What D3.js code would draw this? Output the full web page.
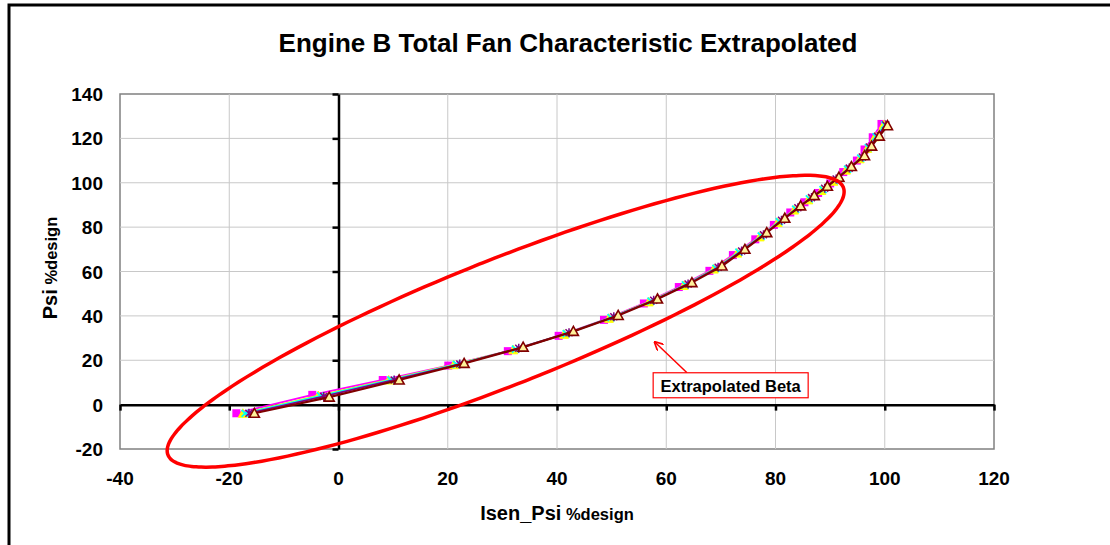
<!DOCTYPE html>
<html><head><meta charset="utf-8">
<script src="https://cdn.jsdelivr.net/npm/d3@7"></script>
<style>
body{margin:0;background:#fff}
svg{display:block}
text{font-family:"Liberation Sans",Arial,Helvetica,sans-serif;font-weight:bold;fill:#000}
</style>
</head><body>
<svg id="c" width="1110" height="545"></svg>
<script>
const chartTitle = "Engine B Total Fan Characteristic Extrapolated";
const xTitleMain = "Isen_Psi", xTitleUnit = " %design";
const yTitleMain = "Psi", yTitleUnit = " %design";
const xTicks = [-40, -20, 0, 20, 40, 60, 80, 100, 120];
const yTicks = [-20, 0, 20, 40, 60, 80, 100, 120, 140];

// Isen_Psi %design and Psi %design, one pair of arrays per series
const isen1 = [-18.7, -4.8, 8.1, 20.1, 31.0, 40.3, 48.6, 55.9, 62.3, 67.9, 72.2, 76.3, 79.7, 82.7, 85.3, 87.8, 90.0, 92.4, 94.9, 96.3, 97.8, 99.4];
const psi1  = [-3.9, 4.4, 11.1, 17.6, 24.1, 31.0, 38.2, 45.6, 53.0, 60.3, 67.4, 74.5, 81.0, 86.6, 91.2, 95.4, 99.7, 104.8, 110.0, 115.0, 120.5, 126.5];
const isen2 = [-17.5, -3.7, 9.2, 21.1, 32.0, 41.3, 49.5, 56.8, 63.2, 68.7, 73.0, 77.1, 80.4, 83.4, 86.0, 88.4, 90.6, 92.9, 95.4, 96.8, 98.2, 99.8];
const psi2  = [-3.9, 4.1, 11.1, 18.0, 24.7, 31.7, 38.9, 46.3, 53.7, 61.1, 68.3, 75.6, 82.1, 87.7, 92.3, 96.5, 100.7, 105.7, 110.8, 115.5, 120.7, 126.2];
const isen3 = [-17.1, -3.3, 9.6, 21.6, 32.4, 41.7, 49.9, 57.2, 63.5, 69.1, 73.3, 77.4, 80.7, 83.7, 86.2, 88.7, 90.8, 93.2, 95.6, 97.0, 98.4, 100.0];
const psi3  = [-3.9, 3.9, 11.1, 18.1, 25.0, 32.0, 39.2, 46.6, 54.0, 61.4, 68.7, 76.0, 82.5, 88.1, 92.7, 96.9, 101.1, 106.1, 111.1, 115.8, 120.8, 126.1];
const isen4 = [-16.4, -2.7, 10.2, 22.2, 33.0, 42.2, 50.4, 57.7, 64.0, 69.5, 73.8, 77.8, 81.1, 84.1, 86.6, 89.0, 91.1, 93.5, 95.9, 97.2, 98.7, 100.2];
const psi4  = [-3.9, 3.7, 11.1, 18.3, 25.4, 32.4, 39.6, 47.0, 54.4, 61.9, 69.2, 76.6, 83.1, 88.7, 93.3, 97.5, 101.7, 106.6, 111.6, 116.1, 120.9, 126.0];
const isen5 = [-15.4, -1.7, 11.1, 23.0, 33.8, 43.0, 51.2, 58.4, 64.7, 70.2, 74.4, 78.4, 81.7, 84.6, 87.1, 89.5, 91.6, 93.9, 96.3, 97.6, 99.0, 100.5];
const psi5  = [-3.9, 3.4, 11.1, 18.6, 25.9, 33.0, 40.2, 47.6, 55.0, 62.5, 70.0, 77.5, 84.0, 89.6, 94.2, 98.4, 102.5, 107.3, 112.2, 116.5, 121.0, 125.7];

// Annotation (data units)
const ellipseCenter = [30.6, 37.6];
const ellipseAxisU = [61.82, 60.29];
const ellipseAxisV = [4.205, -26.30];
const noteText = "Extrapolated Beta";
const notePos = [71.7, 8.5];
const arrowFrom = [63.8, 14.4];
const arrowTo = [57.9, 28.2];

const series = [
  {xs: isen1, ys: psi1, color: "#FF00FF", marker: "square"},
  {xs: isen2, ys: psi2, color: "#FFFF00", marker: "tri"},
  {xs: isen3, ys: psi3, color: "#00FFFF", marker: "x"},
  {xs: isen4, ys: psi4, color: "#800080", marker: "star"},
  {xs: isen5, ys: psi5, color: "#800000", marker: "tri2"}
];

const svg = d3.select("#c");
const L = 120, R = 994, T = 94, B = 449;
const x = d3.scaleLinear().domain([-40, 120]).range([L, R]);
const y = d3.scaleLinear().domain([-20, 140]).range([B, T]);

// chart area border
svg.append("rect").attr("x", 9).attr("y", 5).attr("width", 1120).attr("height", 560)
  .attr("fill", "#fff").attr("stroke", "#000").attr("stroke-width", 3);

// plot area
svg.append("rect").attr("x", L).attr("y", T).attr("width", R - L).attr("height", B - T)
  .attr("fill", "#fff").attr("stroke", "#808080").attr("stroke-width", 1.5);

// gridlines
svg.append("g").selectAll("line").data(xTicks.slice(1, -1)).join("line")
  .attr("x1", d => x(d)).attr("x2", d => x(d)).attr("y1", T).attr("y2", B)
  .attr("stroke", "#c8c8c8").attr("stroke-width", 1);
svg.append("g").selectAll("line").data(yTicks.slice(1, -1)).join("line")
  .attr("y1", d => y(d)).attr("y2", d => y(d)).attr("x1", L).attr("x2", R)
  .attr("stroke", "#c8c8c8").attr("stroke-width", 1);

// zero axes with ticks
const xAx = svg.append("g").attr("transform", `translate(0,${y(0)})`)
  .call(d3.axisBottom(x).tickValues(xTicks).tickSize(6).tickSizeOuter(0).tickFormat(""));
const yAx = svg.append("g").attr("transform", `translate(${x(0)},0)`)
  .call(d3.axisLeft(y).tickValues(yTicks).tickSize(6).tickSizeOuter(0).tickFormat(""));
[xAx, yAx].forEach(g => {
  g.selectAll("path.domain").attr("stroke", "#000").attr("stroke-width", 2.5);
  g.selectAll(".tick line").attr("stroke", "#000").attr("stroke-width", 2.5);
});

// tick labels (low position)
svg.append("g").selectAll("text").data(xTicks).join("text")
  .attr("x", d => x(d)).attr("y", 485).attr("text-anchor", "middle")
  .style("font-size", "19px").text(d => d);
svg.append("g").selectAll("text").data(yTicks).join("text")
  .attr("x", 103).attr("y", d => y(d) + 7).attr("text-anchor", "end")
  .style("font-size", "19px").text(d => d);

// titles
svg.append("text").attr("x", 568).attr("y", 52).attr("text-anchor", "middle")
  .style("font-size", "26px").text(chartTitle);
const xt = svg.append("text").attr("x", 557).attr("y", 520).attr("text-anchor", "middle");
xt.append("tspan").style("font-size", "20px").text(xTitleMain);
xt.append("tspan").style("font-size", "16.5px").text(xTitleUnit);
const yt = svg.append("text").attr("transform", "translate(57,268) rotate(-90)").attr("text-anchor", "middle");
yt.append("tspan").style("font-size", "20px").text(yTitleMain);
yt.append("tspan").style("font-size", "16.5px").text(yTitleUnit);

// series
const line = d3.line().x(d => x(d[0])).y(d => y(d[1]));
series.forEach(s => {
  const pts = s.xs.map((v, i) => [v, s.ys[i]]);
  svg.append("path").datum(pts).attr("d", line).attr("fill", "none")
    .attr("stroke", s.color).attr("stroke-width", s.marker === "tri2" ? 2.2 : 1.8);
  const g = svg.append("g");
  const m = g.selectAll("g").data(pts).join("g")
    .attr("transform", d => `translate(${x(d[0])},${y(d[1])})`);
  if (s.marker === "square") {
    m.append("rect").attr("x", -4).attr("y", -4).attr("width", 8).attr("height", 8)
      .attr("fill", s.color);
  } else if (s.marker === "tri") {
    m.append("path").attr("d", "M0,-4.5L4.5,4L-4.5,4Z").attr("fill", s.color).attr("stroke", s.color);
  } else if (s.marker === "x") {
    m.append("path").attr("d", "M-3.5,-3.5L3.5,3.5M-3.5,3.5L3.5,-3.5").attr("stroke", s.color).attr("stroke-width", 1.8);
  } else if (s.marker === "star") {
    m.append("path").attr("d", "M-3.5,-3.5L3.5,3.5M-3.5,3.5L3.5,-3.5M0,-4.5L0,4.5").attr("stroke", s.color).attr("stroke-width", 1.5);
  } else {
    m.append("path").attr("d", "M0,-5L5,4L-5,4Z").attr("fill", "#FFF29A")
      .attr("stroke", s.color).attr("stroke-width", 1.6).attr("stroke-linejoin", "miter");
  }
});

// red ellipse annotation
const tt = d3.range(0, 361, 2).map(a => a * Math.PI / 180);
const ell = tt.map(t => [
  ellipseCenter[0] + Math.cos(t) * ellipseAxisU[0] + Math.sin(t) * ellipseAxisV[0],
  ellipseCenter[1] + Math.cos(t) * ellipseAxisU[1] + Math.sin(t) * ellipseAxisV[1]
]);
svg.append("path").datum(ell).attr("d", d3.line().x(d => x(d[0])).y(d => y(d[1])).curve(d3.curveCardinalClosed))
  .attr("fill", "none").attr("stroke", "#FF0000").attr("stroke-width", 3.5);

// arrow + label box
svg.append("defs").append("marker").attr("id", "ah").attr("viewBox", "0 0 10 10")
  .attr("refX", 9).attr("refY", 5).attr("markerWidth", 9).attr("markerHeight", 9)
  .attr("markerUnits", "userSpaceOnUse").attr("orient", "auto")
  .append("path").attr("d", "M0,0L10,5L0,10").attr("fill", "none").attr("stroke", "#FF0000").attr("stroke-width", 1.8);
svg.append("line").attr("x1", x(arrowFrom[0])).attr("y1", y(arrowFrom[1]))
  .attr("x2", x(arrowTo[0])).attr("y2", y(arrowTo[1]))
  .attr("stroke", "#FF0000").attr("stroke-width", 1.5).attr("marker-end", "url(#ah)");
const nx = x(notePos[0]), ny = y(notePos[1]);
svg.append("rect").attr("x", nx - 77).attr("y", ny - 13).attr("width", 155).attr("height", 25)
  .attr("fill", "#fff").attr("stroke", "#FF0000").attr("stroke-width", 1.2);
svg.append("text").attr("x", nx + 0.5).attr("y", ny + 6).attr("text-anchor", "middle")
  .style("font-size", "16.5px").text(noteText);
</script>
</body></html>
